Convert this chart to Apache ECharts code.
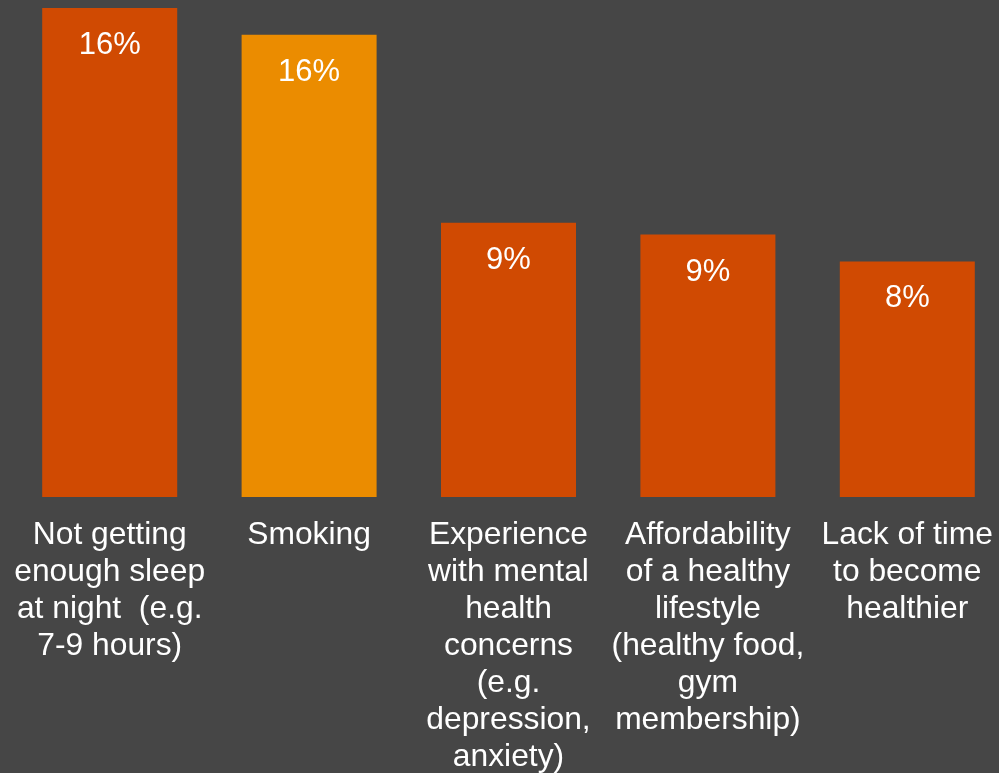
<!DOCTYPE html>
<html>
<head>
<meta charset="utf-8">
<script src="https://cdn.jsdelivr.net/npm/echarts@6/dist/echarts.min.js"></script>
<style>
html,body{margin:0;padding:0;background:#464646;}
#c{width:999px;height:773px;}
</style>
</head>
<body>
<div id="c"></div>
<script>
const categories = [
  "Not getting\nenough sleep\nat night  (e.g.\n7-9 hours)",
  "Smoking",
  "Experience\nwith mental\nhealth\nconcerns\n(e.g.\ndepression,\nanxiety)",
  "Affordability\nof a healthy\nlifestyle\n(healthy food,\ngym\nmembership)",
  "Lack of time\nto become\nhealthier"
];
const values = [16.4, 15.5, 9.2, 8.8, 7.9];
const barColors = ["#D04A02", "#EB8C00", "#D04A02", "#D04A02", "#D04A02"];

const chart = echarts.init(document.getElementById('c'));
chart.setOption({
  backgroundColor: '#464646',
  animation: false,
  grid: { left: 10, width: 997, top: 8, height: 489, containLabel: false, outerBoundsMode: 'none' },
  xAxis: {
    type: 'category',
    data: categories,
    axisLine: { show: false },
    axisTick: { show: false },
    axisLabel: {
      interval: 0,
      color: '#ffffff',
      fontFamily: 'Liberation Sans, Arial, sans-serif',
      fontSize: 31.8,
      lineHeight: 37,
      margin: 20,
      align: 'center'
    }
  },
  yAxis: {
    type: 'value',
    min: 0,
    max: 16.4,
    show: false,
    splitLine: { show: false }
  },
  series: [{
    type: 'bar',
    barWidth: 135,
    data: values.map((v, i) => ({ value: v, itemStyle: { color: barColors[i] } })),
    label: {
      show: true,
      position: 'insideTop',
      distance: 22,
      color: '#ffffff',
      fontFamily: 'Liberation Sans, Arial, sans-serif',
      fontSize: 31,
      formatter: p => Math.round(p.value) + '%'
    }
  }]
});
</script>
</body>
</html>
